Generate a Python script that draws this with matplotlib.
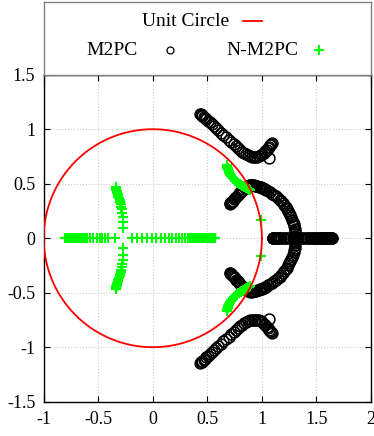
import numpy as np
import matplotlib
matplotlib.use("Agg")
import matplotlib.pyplot as plt

plt.rcParams['font.family'] = ['Liberation Serif', 'DejaVu Serif']
plt.rcParams['axes.unicode_minus'] = False

# ---- data (upper half; lower half is the conjugate) ----
# M2PC, upper branch going out to the top-left
m2pc_b1_x = [0.434, 0.440, 0.447, 0.455, 0.465, 0.477, 0.490, 0.505, 0.522, 0.540,
             0.560, 0.580, 0.602, 0.625, 0.648, 0.672, 0.695, 0.718, 0.740, 0.762,
             0.783, 0.803, 0.822, 0.840, 0.858, 0.875, 0.892, 0.908, 0.924, 0.940,
             0.956, 0.972, 0.988, 1.003, 1.018, 1.032, 1.046, 1.058, 1.069, 1.078,
             1.085, 1.090, 1.065]
m2pc_b1_y = [1.144, 1.138, 1.132, 1.125, 1.115, 1.104, 1.092, 1.078, 1.063, 1.046,
             1.028, 1.009, 0.989, 0.968, 0.946, 0.924, 0.903, 0.882, 0.862, 0.842,
             0.824, 0.808, 0.794, 0.781, 0.770, 0.761, 0.754, 0.749, 0.746, 0.746,
             0.749, 0.755, 0.763, 0.773, 0.785, 0.798, 0.812, 0.827, 0.841, 0.853,
             0.862, 0.869, 0.737]
# M2PC, arc that closes on the real axis near 1.31
m2pc_b2_x = [0.708, 0.712, 0.715, 0.719, 0.723, 0.732, 0.742, 0.753, 0.765, 0.777,
             0.790, 0.803, 0.816, 0.830, 0.845, 0.860, 0.875, 0.885, 0.895, 0.906,
             0.916, 0.927, 0.937, 0.948, 0.958, 0.969, 0.979, 0.989, 0.999, 1.009,
             1.019, 1.029, 1.039, 1.058, 1.077, 1.095, 1.112, 1.129, 1.146, 1.162,
             1.177, 1.191, 1.205, 1.218, 1.230, 1.241, 1.252, 1.261, 1.270, 1.278,
             1.285, 1.291, 1.296, 1.300, 1.304, 1.306, 1.307, 1.308]
m2pc_b2_y = [0.318, 0.322, 0.326, 0.330, 0.335, 0.345, 0.356, 0.368, 0.381, 0.394,
             0.408, 0.421, 0.434, 0.447, 0.460, 0.471, 0.481, 0.487, 0.492, 0.491,
             0.488, 0.486, 0.483, 0.480, 0.477, 0.474, 0.470, 0.466, 0.462, 0.458,
             0.453, 0.449, 0.444, 0.433, 0.422, 0.410, 0.397, 0.383, 0.369, 0.354,
             0.338, 0.321, 0.304, 0.287, 0.269, 0.250, 0.231, 0.211, 0.191, 0.171,
             0.150, 0.129, 0.108, 0.087, 0.065, 0.044, 0.022, 0.000]
# M2PC, real-axis roots
m2pc_real = [1.100, 1.102, 1.104, 1.106, 1.108, 1.113, 1.119, 1.126, 1.134, 1.143,
             1.153, 1.165, 1.178, 1.192, 1.208, 1.225, 1.243, 1.262, 1.282, 1.295,
             1.308, 1.320, 1.334, 1.348, 1.364, 1.380, 1.395, 1.410, 1.424, 1.438,
             1.451, 1.464, 1.476, 1.488, 1.499, 1.510, 1.520, 1.530, 1.539, 1.548,
             1.556, 1.564, 1.571, 1.578, 1.584, 1.590, 1.596, 1.601, 1.606, 1.610,
             1.614, 1.618, 1.622, 1.625, 1.628, 1.631, 1.634, 1.636, 1.638, 1.640]

# N-M2PC, real-axis roots
nm2pc_real = [-0.805, -0.800, -0.794, -0.787, -0.779, -0.770, -0.760, -0.749, -0.737,
              -0.724, -0.710, -0.695, -0.679, -0.662, -0.644, -0.625, -0.606, -0.575,
              -0.544, -0.514, -0.484, -0.469, -0.438, -0.408, -0.346,
              -0.193, -0.148, -0.102, -0.056, -0.010, 0.029, 0.075, 0.112, 0.148,
              0.179, 0.210, 0.240, 0.270, 0.295, 0.320, 0.342, 0.362, 0.381, 0.399,
              0.416, 0.432, 0.447, 0.461, 0.474, 0.486, 0.497, 0.507, 0.516, 0.524,
              0.532, 0.539, 0.545, 0.551, 0.556, 0.561, 0.565, 0.568, 0.570]
# N-M2PC, branch leaving the real axis near -0.27
nm2pc_b1_x = [-0.270, -0.270, -0.272, -0.279, -0.284, -0.289, -0.295, -0.300, -0.305,
              -0.310, -0.315, -0.319, -0.322, -0.325, -0.328, -0.330, -0.332, -0.334,
              -0.335, -0.336, -0.337, -0.337, -0.334]
nm2pc_b1_y = [0.090, 0.152, 0.198, 0.235, 0.265, 0.290, 0.312, 0.332, 0.349, 0.365,
              0.379, 0.392, 0.403, 0.413, 0.422, 0.430, 0.437, 0.443, 0.448, 0.452,
              0.456, 0.462, 0.470]
# N-M2PC, branch near the unit circle
nm2pc_b2_x = [0.677, 0.679, 0.681, 0.683, 0.686, 0.689, 0.692, 0.695, 0.699, 0.703,
              0.707, 0.711, 0.716, 0.721, 0.726, 0.731, 0.737, 0.743, 0.749, 0.755,
              0.762, 0.769, 0.776, 0.783, 0.790, 0.797, 0.805, 0.812, 0.820, 0.828,
              0.836, 0.843, 0.851, 0.858, 0.866, 0.873, 0.880, 0.886, 0.891,
              0.989]
nm2pc_b2_y = [0.670, 0.662, 0.655, 0.648, 0.640, 0.632, 0.624, 0.616, 0.608, 0.600,
              0.592, 0.584, 0.577, 0.570, 0.563, 0.556, 0.549, 0.542, 0.536, 0.529,
              0.523, 0.517, 0.511, 0.505, 0.500, 0.495, 0.490, 0.485, 0.481, 0.476,
              0.472, 0.468, 0.464, 0.460, 0.456, 0.452, 0.449, 0.446, 0.443,
              0.165]


def conj(xs, ys):
    return list(xs) + list(xs), list(ys) + [-v for v in ys]


W, H = 374, 436
fig = plt.figure(figsize=(W / 100, H / 100), dpi=100)
L, R, T, B = 43.7, 371.0, 74.7, 401.7
ax = fig.add_axes([L / W, 1 - B / H, (R - L) / W, (B - T) / H])

theta = np.linspace(0, 2 * np.pi, 400)
ax.plot(np.cos(theta), np.sin(theta), color='#ff0000', lw=1.3, zorder=5)

circ = dict(ls='none', marker='o', ms=7.8, mfc='none', mec='black', mew=1.1, zorder=3)
for xs, ys in [(m2pc_b1_x, m2pc_b1_y), (m2pc_b2_x, m2pc_b2_y)]:
    cx, cy = conj(xs, ys)
    ax.plot(cx, cy, **circ)
ax.plot(m2pc_real, np.zeros(len(m2pc_real)), **circ)

plus = dict(ls='none', marker='+', ms=6.5, mec='#00ff00', mew=1.5, zorder=4)
ax.plot(nm2pc_real, np.zeros(len(nm2pc_real)), **plus)
for xs, ys in [(nm2pc_b1_x, nm2pc_b1_y), (nm2pc_b2_x, nm2pc_b2_y)]:
    cx, cy = conj(xs, ys)
    ax.plot(cx, cy, **plus)

ax.set_xlim(-1, 2)
ax.set_ylim(-1.5, 1.5)
ax.set_xticks([-1, -0.5, 0, 0.5, 1, 1.5, 2])
ax.set_xticklabels(['-1', '-0.5', '0', '0.5', '1', '1.5', '2'])
ax.set_yticks([-1.5, -1, -0.5, 0, 0.5, 1, 1.5])
ax.set_yticklabels(['-1.5', '-1', '-0.5', '0', '0.5', '1', '1.5'])
ax.tick_params(direction='in', length=4, width=0.8, top=True, right=True,
               labelsize=13, colors='black')
ax.tick_params(axis='x', pad=7)
ax.tick_params(axis='y', pad=6)
ax.grid(True, color='#cccccc', ls=':', lw=0.8)
ax.set_axisbelow(True)
for s in ax.spines.values():
    s.set_linewidth(1.0)

# legend box above the plot
lg = fig.add_axes([L / W, 1 - T / H, (R - L) / W, (T - 2) / H])
lg.set_xlim(L, R)
lg.set_ylim(T, 2)
lg.set_xticks([])
lg.set_yticks([])
for s in lg.spines.values():
    s.set_color('#808080')
    s.set_linewidth(1.0)
lg.text(229, 21, 'Unit Circle', ha='right', va='center', fontsize=14)
lg.plot([243, 262], [21, 21], color='#ff0000', lw=1.3)
lg.text(138, 50, 'M2PC', ha='right', va='center', fontsize=14)
lg.plot([170], [50], ls='none', marker='o', ms=5, mfc='none', mec='black', mew=0.9)
lg.text(298, 50, 'N-M2PC', ha='right', va='center', fontsize=14)
lg.plot([319], [50], **plus)

fig.savefig('out.png', dpi=100)
